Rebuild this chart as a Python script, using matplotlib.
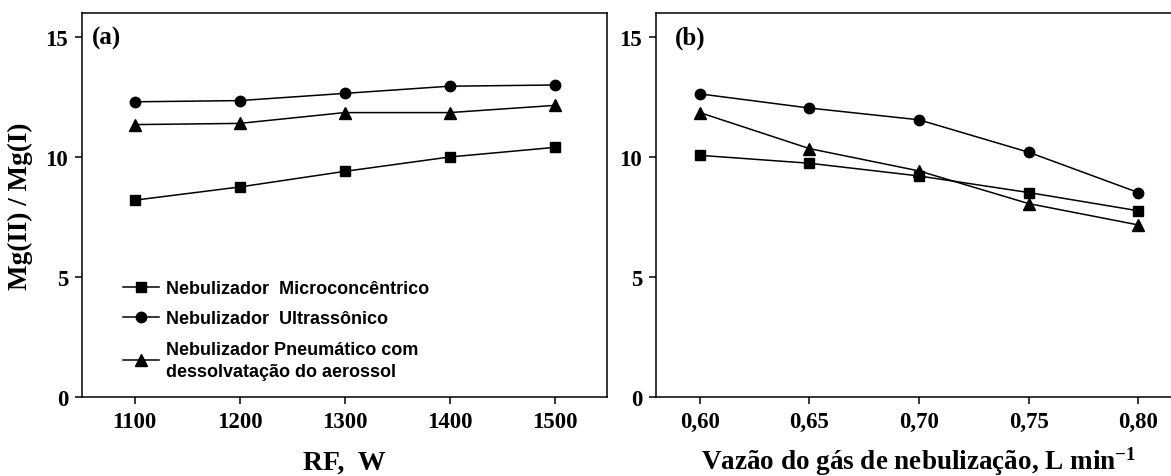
import matplotlib
matplotlib.use("Agg")
import matplotlib.pyplot as plt

plt.rcParams['font.family'] = ['Liberation Serif', 'DejaVu Serif']
plt.rcParams['font.weight'] = 'bold'
plt.rcParams['mathtext.fontset'] = 'custom'
plt.rcParams['mathtext.rm'] = 'Liberation Serif:bold'
plt.rcParams['mathtext.bf'] = 'Liberation Serif:bold'
plt.rcParams['mathtext.it'] = 'Liberation Serif:bold'
plt.rcParams['mathtext.default'] = 'regular'

# (a) effect of RF power
rf_power = [1100, 1200, 1300, 1400, 1500]
rf_micro = [8.2, 8.75, 9.4, 10.0, 10.4]
rf_ultra = [12.3, 12.35, 12.65, 12.95, 13.0]
rf_pneu = [11.35, 11.4, 11.85, 11.85, 12.15]

# (b) effect of nebulizer gas flow
gas_flow = [0.60, 0.65, 0.70, 0.75, 0.80]
gas_flow_labels = ['0,60', '0,65', '0,70', '0,75', '0,80']
gas_micro = [10.07, 9.74, 9.21, 8.52, 7.76]
gas_ultra = [12.63, 12.04, 11.55, 10.2, 8.52]
gas_pneu = [11.85, 10.35, 9.42, 8.06, 7.17]

series_labels = ['Nebulizador  Microconcêntrico',
                 'Nebulizador  Ultrassônico',
                 'Nebulizador Pneumático com\ndessolvatação do aerossol']
yticks = [0, 5, 10, 15]

W, H = 1171, 477
fig = plt.figure(figsize=(W / 100, H / 100), dpi=100)
ax1 = fig.add_axes([82 / W, (H - 398) / H, 525 / W, 384 / H])
ax2 = fig.add_axes([656 / W, (H - 398) / H, 526 / W, 384 / H])

line_kw = dict(color='black', lw=1.1)
for ax, x, series in [(ax1, rf_power, (rf_micro, rf_ultra, rf_pneu)),
                      (ax2, gas_flow, (gas_micro, gas_ultra, gas_pneu))]:
    ax.plot(x, series[0], marker='s', ms=6.5, label=series_labels[0], **line_kw)
    ax.plot(x, series[1], marker='o', ms=7.5, label=series_labels[1], **line_kw)
    ax.plot(x, series[2], marker='^', ms=8, label=series_labels[2], **line_kw)
    ax.set_ylim(0, 16)
    ax.set_yticks(yticks)
    ax.set_yticklabels([str(v) for v in yticks])
    ax.tick_params(direction='out', length=5, width=1.1, labelsize=16.5,
                   top=False, right=False, pad=5)
    for sp in ax.spines.values():
        sp.set_linewidth(1.1)

ax1.set_xlim(1050, 1550)
ax1.set_xticks(rf_power)
ax1.set_xticklabels([str(v) for v in rf_power])
ax2.set_xlim(0.58, 0.82)
ax2.set_xticks(gas_flow)
ax2.set_xticklabels(gas_flow_labels)

ax1.set_ylabel('Mg(II) / Mg(I)', fontsize=19.5, fontweight='bold')
ax1.yaxis.set_label_coords(-0.093, 0.5)
ax1.set_xlabel('RF,  W', fontsize=20, fontweight='bold')
ax1.xaxis.set_label_coords(0.5, -0.137)
ax2.set_xlabel('Vazão do gás de nebulização, L min$^{-1}$', fontsize=19.5,
               fontweight='bold')
ax2.xaxis.set_label_coords(0.5, -0.124)

ax1.text(0.019, 0.9375, '(a)', transform=ax1.transAxes, fontsize=18,
         fontweight='bold', ha='left', va='center')
ax2.text(0.036, 0.9375, '(b)', transform=ax2.transAxes, fontsize=18,
         fontweight='bold', ha='left', va='center')

leg = ax1.legend(loc='upper left', bbox_to_anchor=(0.078, 0.305), frameon=False,
                 borderpad=0, borderaxespad=0, handlelength=2.0,
                 handletextpad=0.4, labelspacing=0.75,
                 prop={'family': 'Liberation Sans', 'weight': 'bold', 'size': 13})
for t in leg.get_texts():
    t.set_linespacing(1.35)

fig.savefig('out.png', dpi=100)
